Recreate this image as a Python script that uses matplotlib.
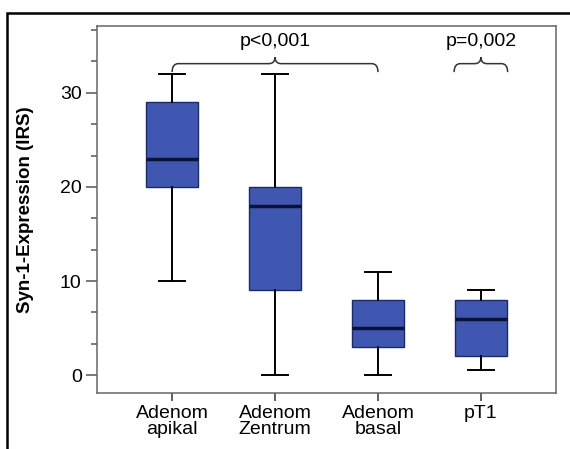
import matplotlib
matplotlib.use("Agg")
import matplotlib.pyplot as plt
from matplotlib.patches import Rectangle, PathPatch
from matplotlib.path import Path

# values
groups = ["Adenom\napikal", "Adenom\nZentrum", "Adenom\nbasal", "pT1"]
whisker_low = [10, 0, 0, 0.5]
q1 = [20, 9, 3, 2]
median = [23, 18, 5, 6]
q3 = [29, 20, 8, 8]
whisker_high = [32, 32, 11, 9]

p_labels = ["p<0,001", "p=0,002"]
brace_from = [1, 3.74]
brace_to = [3, 4.26]
brace_mid = [2, 4]

plt.rcParams["font.family"] = ["Liberation Sans", "DejaVu Sans"]

fig = plt.figure(figsize=(5.7, 4.49), dpi=100)
ax = fig.add_axes([97 / 570, 1 - 393 / 449, 459 / 570, 367 / 449])

stats = []
for i in range(len(groups)):
    stats.append({
        "whislo": whisker_low[i], "q1": q1[i], "med": median[i],
        "q3": q3[i], "whishi": whisker_high[i], "fliers": [],
    })

ax.bxp(stats, positions=range(1, len(groups) + 1), widths=0.5,
       capwidths=0.25, patch_artist=True, showfliers=False,
       boxprops=dict(facecolor="#3f57b0", edgecolor="#1c2a66", linewidth=1),
       medianprops=dict(color="#0b1238", linewidth=2.5),
       whiskerprops=dict(color="black", linewidth=1.4),
       capprops=dict(color="black", linewidth=1.4))


def brace(x0, x1, xm, y, label):
    r = 0.06
    d = 0.9
    u = 0.7
    verts = [(x0, y - d), (x0, y), (x0 + r, y),
             (xm - r, y), (xm, y), (xm, y + u),
             (xm, y), (xm + r, y),
             (x1 - r, y), (x1, y), (x1, y - d)]
    codes = [Path.MOVETO, Path.CURVE3, Path.CURVE3,
             Path.LINETO, Path.CURVE3, Path.CURVE3,
             Path.CURVE3, Path.CURVE3,
             Path.LINETO, Path.CURVE3, Path.CURVE3]
    ax.add_patch(PathPatch(Path(verts, codes), fill=False,
                           edgecolor="#333333", linewidth=1.1))
    ax.text(xm, y + 1.9, label, ha="center", va="baseline", fontsize=14)


for i in range(len(p_labels)):
    brace(brace_from[i], brace_to[i], brace_mid[i], 33.1, p_labels[i])

ax.set_xlim(0.27, 4.73)
ax.set_ylim(-1.9, 37.1)
ax.set_yticks([0, 10, 20, 30])
ax.set_yticks([i * 10 / 3 for i in range(12)], minor=True)
ax.set_xticks(range(1, len(groups) + 1))
ax.set_xticklabels(groups, fontsize=14, linespacing=0.85)
ax.tick_params(axis="y", labelsize=14, length=8, width=1.1, color="#555555",
               pad=3)
ax.tick_params(axis="y", which="minor", length=4, width=1.1, color="#555555")
ax.tick_params(axis="x", length=6, width=1.3, color="#555555", pad=3)
for s in ax.spines.values():
    s.set_color("#666666")
    s.set_linewidth(1.1)

ax.set_ylabel("Syn-1-Expression (IRS)", fontsize=13.5, fontweight="bold")
ax.yaxis.set_label_coords(-0.137, 0.5)

# outer frame around the whole graphic
fig.add_artist(Rectangle((7 / 570, -0.5), 2, 1.5 - 13 / 449,
                         transform=fig.transFigure, fill=False,
                         edgecolor="black", linewidth=1.8, clip_on=False))

fig.savefig("out.png", dpi=100)
